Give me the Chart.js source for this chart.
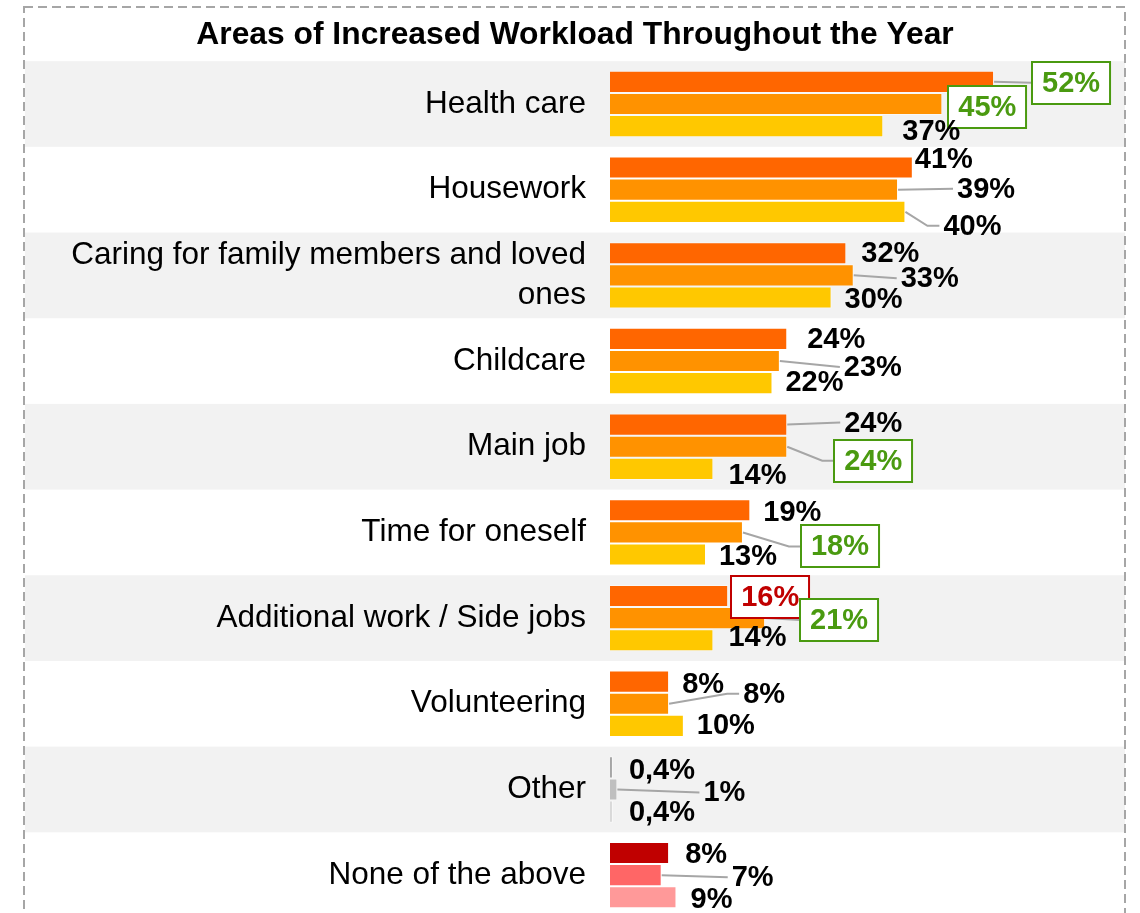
<!DOCTYPE html>
<html>
<head>
<meta charset="utf-8">
<title>Areas of Increased Workload Throughout the Year</title>
<script src="https://cdn.jsdelivr.net/npm/chart.js@4.4.0/dist/chart.umd.min.js"></script>
<style>
  html, body { margin: 0; padding: 0; background: #fff; overflow: hidden; }
  canvas { display: block; }
</style>
</head>
<body>
<canvas id="chart" width="1140" height="918"></canvas>
<script>
// ---- data ----
const categories = [
  'Health care',
  'Housework',
  ['Caring for family members and loved', 'ones'],
  'Childcare',
  'Main job',
  'Time for oneself',
  'Additional work / Side jobs',
  'Volunteering',
  'Other',
  'None of the above'
];

// share in %, one array per bar in each group (top, middle, bottom)
const series1 = [52, 41, 32, 24, 24, 19, 16, 8, 0.4, 8];
const series2 = [45, 39, 33, 23, 24, 18, 21, 8, 1, 7];
const series3 = [37, 40, 30, 22, 14, 13, 14, 10, 0.4, 9];

// ---- label placement (offset of text centre from the bar end) ----
const labelShift = [
  [[77, 1], [31, -9], [44, 0], [49, 0], [86, -2], [42, 2], [42, 1], [34, 2], [49, 3], [37, 1]],
  [[45, 3], [88, -1], [76, 3], [93, 6], [86, 14], [97, 14], [74, 2], [95, -10], [107, 3], [91, 2]],
  [[48, 5], [67, 14], [42, 1], [42, -1], [44, 6], [42, 1], [44, -3], [42, -1], [49, 0], [35, 2]]
];
// labels in a frame: "series-category"
const boxed = { '0-0': '#4A9A10', '1-0': '#4A9A10', '1-4': '#4A9A10', '1-5': '#4A9A10', '0-6': '#C00000', '1-6': '#4A9A10' };
// labels tied to their bar with a grey line
const leaders = ['0-0', '1-1', '2-1', '1-2', '1-3', '0-4', '1-4', '1-5', '1-6', '1-7', '1-8', '1-9'];

const FONT = '"Liberation Sans", Arial, sans-serif';

function colorsFor(main, other, none) {
  return categories.map((c, i) => (i === 8 ? other : i === 9 ? none : main));
}

function fmt(v) {
  return String(v).replace('.', ',') + '%';
}

// alternating grey rows + dashed frame
const rowBands = {
  id: 'rowBands',
  beforeDraw(chart) {
    const ctx = chart.ctx;
    const y = chart.scales.y;
    const step = y.getPixelForValue(1) - y.getPixelForValue(0);
    ctx.save();
    ctx.fillStyle = '#F2F2F2';
    categories.forEach((c, i) => {
      if (i % 2 === 0) ctx.fillRect(25, y.getPixelForValue(i) - step / 2, 1100, step);
    });
    ctx.strokeStyle = '#A6A6A6';
    ctx.lineWidth = 2;
    ctx.setLineDash([9, 5]);
    ctx.strokeRect(24, 7, 1101, 960);
    ctx.restore();
  }
};

// value labels, leader lines and frames
const valueLabels = {
  id: 'valueLabels',
  afterDatasetsDraw(chart) {
    const ctx = chart.ctx;
    ctx.save();
    ctx.font = 'bold 29px ' + FONT;
    ctx.textAlign = 'center';
    ctx.textBaseline = 'middle';

    const items = [];
    chart.data.datasets.forEach((ds, d) => {
      chart.getDatasetMeta(d).data.forEach((bar, i) => {
        const [dx, dy] = labelShift[d][i];
        const text = fmt(ds.data[i]);
        const w = ctx.measureText(text).width;
        const key = d + '-' + i;
        const tx = bar.x + dx;
        const ty = bar.y + dy;
        items.push({ bar, text, w, key, tx, ty, dy, box: boxed[key] });
      });
    });

    // leader lines first
    ctx.strokeStyle = '#A6A6A6';
    ctx.lineWidth = 2;
    items.forEach(it => {
      if (!leaders.includes(it.key)) return;
      const left = it.tx - it.w / 2 - (it.box ? 10 : 4);
      ctx.beginPath();
      ctx.moveTo(it.bar.x, it.bar.y);
      if (Math.abs(it.dy) > 8) ctx.lineTo(left - 12, it.ty);
      ctx.lineTo(left, it.ty);
      ctx.stroke();
    });

    items.forEach(it => {
      if (it.box) {
        const bx = Math.round(it.tx - it.w / 2 - 10);
        const by = Math.round(it.ty - 21);
        ctx.fillStyle = '#fff';
        ctx.fillRect(bx, by, it.w + 20, 42);
        ctx.strokeStyle = it.box;
        ctx.lineWidth = 2;
        ctx.strokeRect(bx, by, it.w + 20, 42);
      }
      ctx.fillStyle = it.box || '#000';
      ctx.fillText(it.text, it.tx, it.ty + 1);
    });
    ctx.restore();
  }
};

new Chart(document.getElementById('chart'), {
  type: 'bar',
  data: {
    labels: categories,
    datasets: [
      { data: series1, backgroundColor: colorsFor('#FF6600', '#A6A6A6', '#C00000') },
      { data: series2, backgroundColor: colorsFor('#FF9200', '#BFBFBF', '#FF6666') },
      { data: series3, backgroundColor: colorsFor('#FFC800', '#D9D9D9', '#FF9999') }
    ]
  },
  options: {
    indexAxis: 'y',
    responsive: false,
    animation: false,
    layout: { padding: { left: 23, right: 13, top: 0, bottom: 0 } },
    datasets: {
      bar: {
        categoryPercentage: 0.775,
        barPercentage: 1,
        borderWidth: 1,
        borderColor: 'rgba(255,255,255,0.45)'
      }
    },
    scales: {
      x: { display: false, min: 0, max: 70 },
      y: {
        grid: { display: false, drawTicks: false },
        border: { display: false },
        ticks: {
          color: '#000',
          padding: 24,
          font: { family: FONT, size: 31.5, lineHeight: 1.25 }
        },
        afterFit(scale) {
          scale.width = 587;
          // rows run right up to the title and down past the bottom edge
          scale.paddingTop = 0;
          scale.paddingBottom = 0;
        }
      }
    },
    plugins: {
      legend: { display: false },
      tooltip: { enabled: false },
      title: {
        display: true,
        text: 'Areas of Increased Workload Throughout the Year',
        color: '#000',
        font: { family: FONT, size: 31.8, weight: 'bold', lineHeight: 1.2 },
        padding: { top: 16, bottom: 7 }
      }
    }
  },
  plugins: [rowBands, valueLabels]
});
</script>
</body>
</html>
